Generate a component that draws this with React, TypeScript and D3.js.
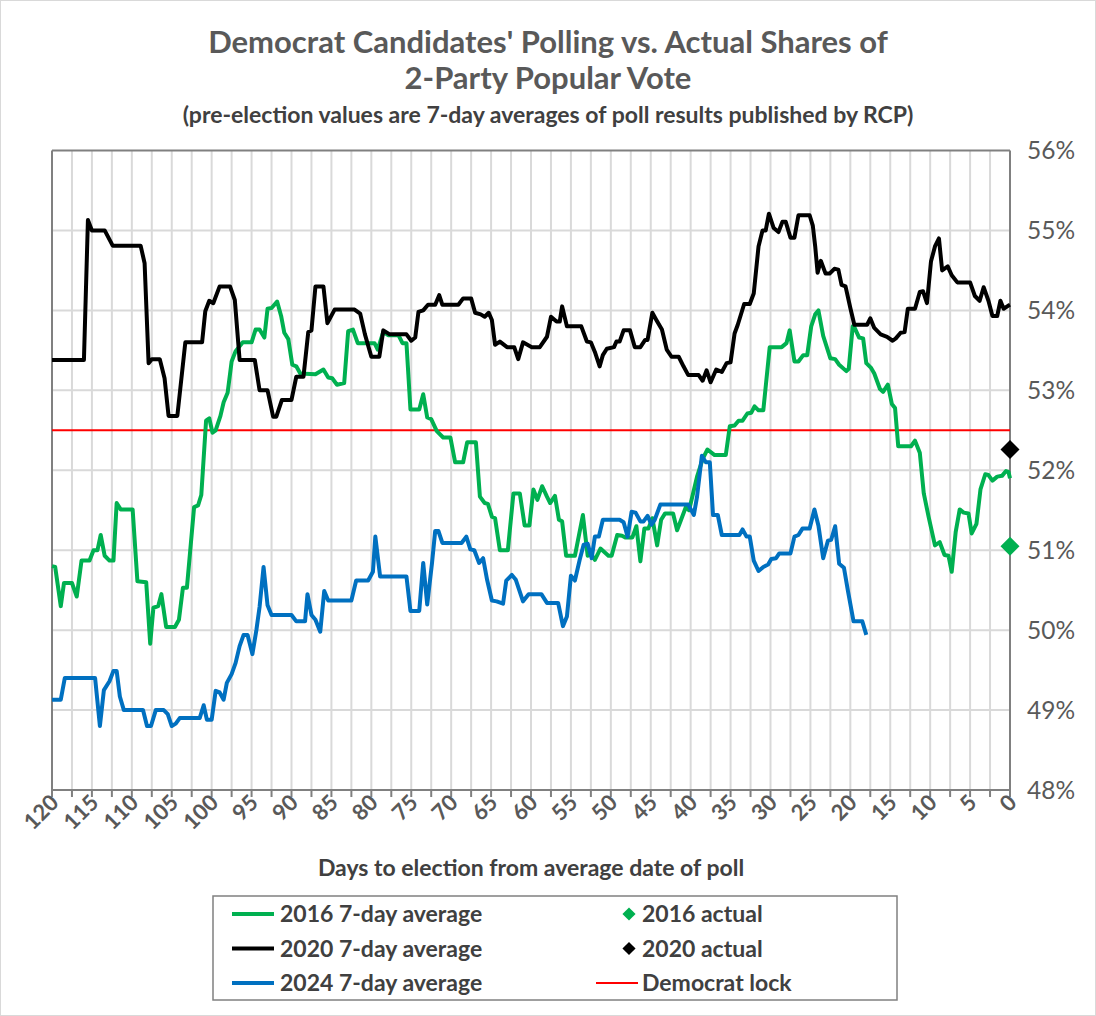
import React from 'react';
import * as d3 from 'd3';

// [days to election, Democrat share of 2-party vote %]
const poll2016: [number, number][] = [
  [120, 50.8], [119.6, 50.79], [118.9, 50.3], [118.5, 50.59], [117.5, 50.59], [116.9, 50.42], [116.3, 50.87], [115.3, 50.87],
  [114.8, 51.0], [114.3, 51.0], [113.9, 51.19], [113.4, 50.93], [112.8, 50.87], [112.3, 50.87], [111.9, 51.59], [111.4, 51.51],
  [109.9, 51.51], [109.3, 50.61], [108.2, 50.6], [107.7, 49.83], [107.3, 50.28], [106.7, 50.3], [106.3, 50.45], [105.7, 50.04],
  [104.6, 50.04], [104.1, 50.13], [103.6, 50.53], [103.1, 50.53], [102.2, 51.54], [101.7, 51.56], [101.3, 51.69], [100.7, 52.62],
  [100.3, 52.65], [99.9, 52.47], [99.5, 52.5], [98.9, 52.68], [98.5, 52.85], [98.0, 52.97], [97.5, 53.36], [97.0, 53.49],
  [96.1, 53.6], [95.0, 53.6], [94.5, 53.76], [94.0, 53.76], [93.4, 53.66], [93.0, 54.02], [92.5, 54.03], [91.8, 54.11],
  [91.3, 53.93], [90.9, 53.72], [90.4, 53.64], [89.9, 53.32], [89.4, 53.3], [88.9, 53.21], [87.0, 53.2], [86.0, 53.26],
  [85.4, 53.16], [84.9, 53.15], [84.3, 53.07], [83.4, 53.09], [82.9, 53.74], [82.3, 53.76], [81.7, 53.59], [79.6, 53.59],
  [79.2, 53.51], [78.5, 53.73], [77.9, 53.69], [76.6, 53.69], [76.1, 53.59], [75.6, 53.59], [75.1, 52.76], [74.0, 52.76],
  [73.5, 52.95], [73.0, 52.66], [72.5, 52.64], [71.8, 52.49], [71.0, 52.41], [70.1, 52.41], [69.5, 52.1], [68.5, 52.1],
  [68.0, 52.35], [66.9, 52.35], [66.4, 51.67], [65.8, 51.59], [65.4, 51.58], [64.9, 51.42], [64.5, 51.4], [63.9, 51.0],
  [62.9, 51.0], [62.2, 51.71], [61.4, 51.71], [60.8, 51.31], [60.2, 51.31], [59.7, 51.76], [59.2, 51.63], [58.6, 51.8],
  [58.0, 51.67], [57.6, 51.59], [57.0, 51.68], [56.5, 51.38], [56.1, 51.36], [55.6, 50.93], [54.5, 50.93], [53.5, 51.44],
  [52.9, 50.93], [52.5, 50.95], [52.0, 50.88], [51.3, 51.02], [50.3, 50.93], [49.9, 50.93], [49.2, 51.19], [48.6, 51.18],
  [48.2, 51.16], [47.3, 51.16], [46.8, 51.3], [46.3, 50.86], [45.8, 51.27], [45.3, 51.27], [44.8, 51.4], [44.2, 51.06],
  [43.7, 51.38], [43.2, 51.46], [42.2, 51.46], [41.7, 51.25], [41.2, 51.38], [40.6, 51.54], [40.2, 51.5], [39.7, 51.71],
  [39.2, 51.92], [38.5, 52.14], [37.9, 52.26], [37.0, 52.19], [35.6, 52.19], [35.1, 52.55], [34.5, 52.56], [34.0, 52.62],
  [33.5, 52.62], [32.9, 52.71], [32.4, 52.72], [32.0, 52.8], [31.5, 52.75], [30.9, 52.75], [30.1, 53.54], [28.6, 53.54],
  [28.0, 53.59], [27.6, 53.75], [27.0, 53.36], [26.5, 53.36], [25.9, 53.44], [25.4, 53.44], [24.9, 53.8], [24.4, 53.95],
  [24.0, 54.0], [23.4, 53.68], [22.5, 53.4], [21.9, 53.39], [21.4, 53.32], [20.5, 53.24], [20.2, 53.27], [19.7, 53.8],
  [19.5, 53.79], [18.9, 53.66], [18.4, 53.65], [18.0, 53.34], [17.4, 53.28], [17.0, 53.21], [16.3, 53.02], [15.9, 52.98],
  [15.3, 53.07], [14.8, 52.83], [14.4, 52.78], [14.0, 52.3], [12.4, 52.3], [11.9, 52.37], [11.3, 52.22], [10.8, 51.71],
  [10.2, 51.42], [9.4, 51.06], [8.8, 51.1], [8.2, 50.94], [7.7, 50.93], [7.3, 50.73], [6.8, 51.23], [6.3, 51.51],
  [5.8, 51.47], [5.2, 51.46], [4.8, 51.21], [4.2, 51.33], [3.7, 51.76], [3.1, 51.95], [2.7, 51.94], [2.2, 51.87],
  [1.6, 51.92], [1.0, 51.93], [0.5, 51.99], [0.2, 51.98], [0, 51.9],
];

const poll2020: [number, number][] = [
  [120, 53.38], [116, 53.38], [115.5, 55.13], [115, 55.0], [113.4, 55.0], [112.4, 54.81], [108.9, 54.81], [108.4, 54.59],
  [107.9, 53.34], [107.5, 53.39], [106.5, 53.39], [105.9, 53.15], [105.4, 52.68], [104.3, 52.68], [103.3, 53.6], [101.2, 53.6],
  [100.8, 53.99], [100.3, 54.12], [99.8, 54.09], [99.0, 54.3], [97.7, 54.3], [97.1, 54.13], [96.5, 53.38], [94.6, 53.38],
  [94.0, 53.0], [93.0, 53.0], [92.3, 52.67], [91.9, 52.67], [91.2, 52.88], [90.0, 52.88], [89.4, 53.17], [88.5, 53.17],
  [87.9, 53.73], [87.5, 53.75], [87.0, 54.3], [86.0, 54.3], [85.5, 53.84], [84.6, 54.01], [82.1, 54.01], [81.4, 53.96],
  [80.8, 53.7], [80.0, 53.42], [79.0, 53.42], [78.5, 53.75], [77.7, 53.7], [75.6, 53.7], [75.0, 53.62], [74.5, 53.66],
  [74.1, 53.98], [73.5, 54.0], [72.9, 54.07], [72.0, 54.07], [71.5, 54.19], [71.1, 54.07], [69.1, 54.07], [68.5, 54.15],
  [67.5, 54.15], [67.0, 53.97], [66.3, 53.95], [65.8, 53.92], [65.3, 53.97], [64.9, 53.88], [64.5, 53.57], [63.9, 53.61],
  [63.0, 53.54], [62.1, 53.54], [61.6, 53.39], [61.0, 53.6], [59.9, 53.54], [58.9, 53.54], [58.0, 53.67], [57.5, 53.92],
  [56.8, 53.86], [56.4, 53.86], [56.1, 54.05], [55.5, 53.8], [53.7, 53.8], [53.0, 53.61], [52.5, 53.6], [52.0, 53.48],
  [51.4, 53.3], [51.0, 53.44], [50.5, 53.52], [49.6, 53.54], [49.3, 53.61], [48.9, 53.61], [48.4, 53.75], [47.6, 53.75],
  [47.0, 53.54], [46.3, 53.54], [45.7, 53.63], [45.4, 53.63], [44.8, 53.97], [44.3, 53.88], [43.6, 53.76], [43.0, 53.51],
  [42.4, 53.42], [41.5, 53.42], [40.9, 53.3], [40.3, 53.19], [39.0, 53.19], [38.5, 53.12], [38.0, 53.25], [37.5, 53.1],
  [36.8, 53.26], [36.1, 53.23], [35.5, 53.34], [35.0, 53.35], [34.5, 53.71], [34.1, 53.82], [33.3, 54.08], [32.6, 54.08],
  [32.1, 54.21], [31.5, 54.8], [31.0, 55.0], [30.6, 55.0], [30.2, 55.21], [29.6, 55.03], [29.0, 54.98], [28.5, 55.11],
  [28.1, 55.11], [27.5, 54.91], [27.0, 54.91], [26.5, 55.19], [25.1, 55.19], [24.7, 55.06], [24.4, 54.8], [24.1, 54.47],
  [23.7, 54.62], [23.1, 54.46], [22.6, 54.46], [22.0, 54.52], [21.5, 54.51], [21.1, 54.32], [20.6, 54.3], [20.0, 54.03],
  [19.5, 53.82], [17.9, 53.82], [17.5, 53.9], [17.0, 53.78], [16.2, 53.7], [15.4, 53.67], [14.7, 53.62], [14.3, 53.65],
  [13.7, 53.72], [13.2, 53.73], [12.8, 54.02], [11.9, 54.02], [11.3, 54.23], [10.9, 54.24], [10.4, 54.09], [9.9, 54.61],
  [9.4, 54.8], [8.9, 54.9], [8.5, 54.5], [7.8, 54.55], [7.3, 54.44], [6.6, 54.35], [5.0, 54.35], [4.4, 54.18],
  [3.8, 54.12], [3.3, 54.29], [2.7, 54.12], [2.2, 53.93], [1.6, 53.93], [1.2, 54.12], [0.8, 54.02], [0.2, 54.06], [0, 54.07],
];

const poll2024: [number, number][] = [
  [120, 49.13], [118.9, 49.13], [118.4, 49.4], [114.6, 49.4], [114.0, 48.8], [113.5, 49.25], [112.8, 49.36], [112.3, 49.49],
  [111.9, 49.49], [111.5, 49.17], [111.0, 49.0], [108.6, 49.0], [108.1, 48.8], [107.6, 48.8], [107.0, 49.0], [106.0, 49.0],
  [105.5, 48.95], [105.0, 48.8], [104.5, 48.83], [104.0, 48.9], [101.5, 48.9], [101.0, 49.06], [100.6, 48.88], [100.0, 48.88],
  [99.5, 49.24], [99.0, 49.22], [98.5, 49.13], [98.1, 49.34], [97.5, 49.45], [97.0, 49.59], [96.5, 49.8], [96.0, 49.94],
  [95.5, 49.94], [94.9, 49.7], [94.4, 50.0], [94.0, 50.29], [93.5, 50.79], [93.0, 50.31], [92.5, 50.19], [90.0, 50.19],
  [89.4, 50.11], [88.3, 50.11], [88.0, 50.45], [87.5, 50.19], [87.0, 50.13], [86.4, 49.98], [85.9, 50.49], [85.4, 50.37],
  [82.5, 50.37], [81.9, 50.62], [80.4, 50.62], [79.8, 50.73], [79.5, 51.17], [78.9, 50.67], [75.6, 50.67], [75.1, 50.24],
  [74.0, 50.24], [73.5, 50.84], [73.0, 50.32], [72.4, 50.84], [72.0, 51.24], [71.6, 51.24], [71.1, 51.09], [68.7, 51.09],
  [68.1, 51.17], [67.6, 51.01], [67.1, 51.0], [66.5, 50.84], [66.0, 50.9], [65.5, 50.63], [64.9, 50.37], [64.3, 50.36],
  [63.5, 50.33], [63.1, 50.62], [62.4, 50.69], [61.9, 50.63], [61.0, 50.36], [60.3, 50.45], [58.7, 50.45], [58.0, 50.34],
  [56.6, 50.34], [56.0, 50.05], [55.5, 50.17], [55.0, 50.68], [54.5, 50.62], [53.9, 50.88], [53.4, 51.07], [52.9, 51.08],
  [52.4, 50.9], [52.0, 51.17], [51.5, 51.17], [51.0, 51.38], [48.9, 51.38], [48.4, 51.35], [47.9, 51.17], [47.4, 51.48],
  [46.9, 51.47], [46.3, 51.36], [45.9, 51.36], [45.4, 51.43], [44.9, 51.32], [44.5, 51.38], [43.8, 51.57], [40.3, 51.57],
  [39.6, 51.44], [39.2, 51.67], [38.6, 52.18], [38.1, 52.1], [37.6, 52.1], [37.2, 51.44], [36.6, 51.44], [36.1, 51.19],
  [33.9, 51.19], [33.5, 51.26], [33.0, 51.17], [32.6, 51.17], [32.1, 50.87], [31.5, 50.74], [30.9, 50.79], [30.3, 50.82],
  [29.9, 50.89], [29.3, 50.9], [28.9, 50.96], [27.5, 50.96], [27.0, 51.17], [26.5, 51.19], [26.0, 51.27], [25.1, 51.27],
  [24.5, 51.51], [24.0, 51.31], [23.4, 50.9], [22.8, 51.12], [22.4, 51.13], [21.9, 51.3], [21.4, 50.83], [20.8, 50.78],
  [20.3, 50.49], [19.6, 50.11], [18.5, 50.11], [18.0, 49.94],
];

const actual2016 = 51.05;
const actual2020 = 52.26;
const democratLock = 52.5;

const yTicks = [48, 49, 50, 51, 52, 53, 54, 55, 56];
const xLabelDays = d3.range(120, -1, -5);
const xTickDays = d3.range(0, 121, 2.5);

const titleLines = ["Democrat Candidates' Polling vs. Actual Shares of", '2-Party Popular Vote'];
const subtitle = '(pre-election values are 7-day averages of poll results published by RCP)';
const xTitle = 'Days to election from average date of poll';

const GREEN = '#00B050';
const BLUE = '#0070C0';
const RED = '#FF0000';
const GRID = '#D9D9D9';
const AXIS = '#808080';
const TEXT = '#595959';
const FONT = 'Lato, "Liberation Sans", sans-serif';

const W = 1096;
const H = 1016;
const plot = { left: 52, right: 1010, top: 150.5, bottom: 790 };

const x = d3.scaleLinear().domain([120, 0]).range([plot.left, plot.right]);
const y = d3.scaleLinear().domain([48, 56]).range([plot.bottom, plot.top]);

const line = d3
  .line<[number, number]>()
  .x((d) => x(d[0]))
  .y((d) => y(d[1]));

const diamond = d3.symbol().type(d3.symbolDiamond2).size(230)();
const smallDiamond = d3.symbol().type(d3.symbolDiamond2).size(110)();

const legendRows = [
  { label: '2016 7-day average', color: GREEN, kind: 'line', col: 0, row: 0 },
  { label: '2020 7-day average', color: '#000', kind: 'line', col: 0, row: 1 },
  { label: '2024 7-day average', color: BLUE, kind: 'line', col: 0, row: 2 },
  { label: '2016 actual', color: GREEN, kind: 'diamond', col: 1, row: 0 },
  { label: '2020 actual', color: '#000', kind: 'diamond', col: 1, row: 1 },
  { label: 'Democrat lock', color: RED, kind: 'thin', col: 1, row: 2 },
];

const App: React.FC = () => {
  return (
    <svg
      width={W}
      height={H}
      style={{ position: 'absolute', left: 0, top: 0, background: '#fff' }}
      fontFamily={FONT}
    >
      <rect x={0.5} y={0.5} width={W - 1} height={H - 1} fill="#fff" stroke={GRID} />

      {/* titles */}
      {titleLines.map((t, i) => (
        <text key={t} x={548} y={53 + i * 36} textAnchor="middle" fontSize={31} fontWeight="bold" fill={TEXT}>
          {t}
        </text>
      ))}
      <text x={548} y={123} textAnchor="middle" fontSize={23} fontWeight="bold" fill="#404040">
        {subtitle}
      </text>

      {/* grid */}
      {xTickDays
        .filter((d) => d > 0 && d < 120)
        .map((d) => (
          <line key={'gx' + d} x1={x(d)} x2={x(d)} y1={plot.top} y2={plot.bottom} stroke={GRID} strokeWidth={2} />
        ))}
      {yTicks
        .filter((v) => v > 48 && v < 56)
        .map((v) => (
          <line key={'gy' + v} x1={plot.left} x2={plot.right} y1={y(v)} y2={y(v)} stroke={GRID} strokeWidth={2} />
        ))}

      {/* plot border / axes */}
      <line x1={plot.left} x2={plot.right} y1={plot.top} y2={plot.top} stroke={AXIS} strokeWidth={2} />
      <line x1={plot.left} x2={plot.left} y1={plot.top} y2={plot.bottom} stroke={AXIS} strokeWidth={2} />
      <line x1={plot.right} x2={plot.right} y1={plot.top} y2={plot.bottom} stroke={AXIS} strokeWidth={2} />
      <line x1={plot.left - 1} x2={plot.right + 1} y1={plot.bottom} y2={plot.bottom} stroke={AXIS} strokeWidth={2} />
      {xTickDays.map((d) => (
        <line key={'tx' + d} x1={x(d)} x2={x(d)} y1={plot.bottom} y2={plot.bottom + 7} stroke={AXIS} strokeWidth={2} />
      ))}

      {/* y labels */}
      {yTicks.map((v) => (
        <text key={'yl' + v} x={plot.right + 17} y={y(v) + 8.5} fontSize={24.5} fill={TEXT}>
          {v}%
        </text>
      ))}

      {/* x labels */}
      {xLabelDays.map((d) => (
        <text
          key={'xl' + d}
          transform={`translate(${x(d) + 8},${plot.bottom + 14}) rotate(-45)`}
          textAnchor="end"
          fontSize={22}
          fontWeight="bold"
          fill={TEXT}
        >
          {d}
        </text>
      ))}

      <text x={531} y={876} textAnchor="middle" fontSize={23} fontWeight="bold" fill="#404040">
        {xTitle}
      </text>

      {/* series */}
      <line x1={plot.left} x2={plot.right} y1={y(democratLock)} y2={y(democratLock)} stroke={RED} strokeWidth={2} />
      <path d={line(poll2016) || ''} fill="none" stroke={GREEN} strokeWidth={4} strokeLinejoin="round" />
      <path d={line(poll2020) || ''} fill="none" stroke="#000" strokeWidth={4} strokeLinejoin="round" />
      <path d={line(poll2024) || ''} fill="none" stroke={BLUE} strokeWidth={4} strokeLinejoin="round" />
      <path d={diamond || ''} transform={`translate(${x(0)},${y(actual2016)})`} fill={GREEN} />
      <path d={diamond || ''} transform={`translate(${x(0)},${y(actual2020)})`} fill="#000" />

      {/* legend */}
      <rect x={213} y={896} width={684} height={104} fill="#fff" stroke={AXIS} strokeWidth={1.5} />
      {legendRows.map((r) => {
        const cy = 914 + r.row * 34.5;
        const sx = r.col === 0 ? 232 : 596;
        const tx = r.col === 0 ? 280 : 642;
        return (
          <g key={r.label}>
            {r.kind === 'line' && <line x1={sx} x2={sx + 42} y1={cy} y2={cy} stroke={r.color} strokeWidth={4} />}
            {r.kind === 'thin' && <line x1={sx} x2={sx + 42} y1={cy} y2={cy} stroke={r.color} strokeWidth={2} />}
            {r.kind === 'diamond' && (
              <path d={smallDiamond || ''} transform={`translate(${sx + 33},${cy})`} fill={r.color} />
            )}
            <text x={tx} y={cy + 8} fontSize={23} fontWeight="bold" fill="#404040">
              {r.label}
            </text>
          </g>
        );
      })}
    </svg>
  );
};

export default App;
